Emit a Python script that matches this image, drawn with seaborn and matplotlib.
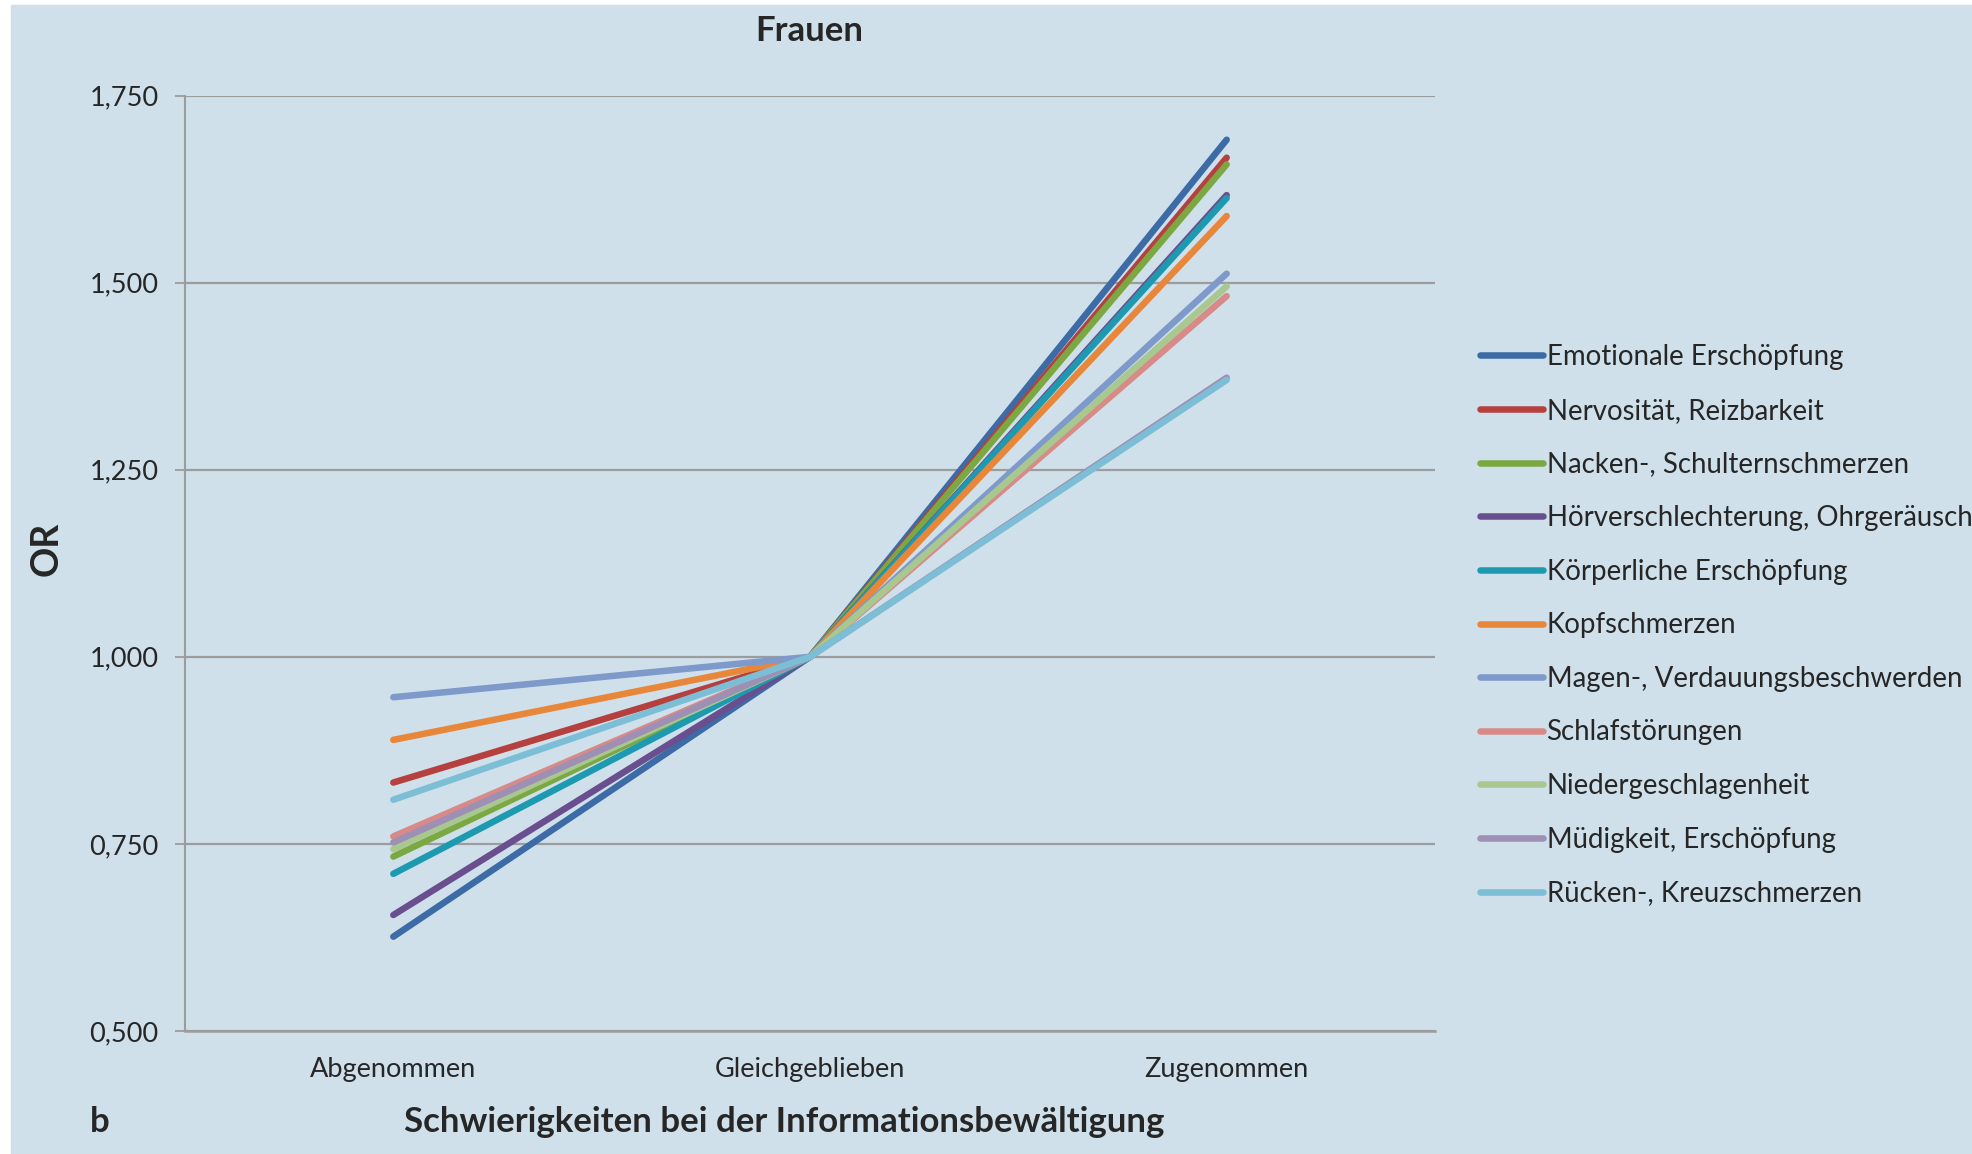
"""
Frauen: OR nach Veränderung der Schwierigkeiten bei der Informationsbewältigung.
"""
import matplotlib
matplotlib.use('Agg')
import matplotlib.pyplot as plt
import matplotlib.patches as mpatches
from matplotlib.ticker import FixedLocator, FuncFormatter
import seaborn as sns
import pandas as pd

# Data
categories = ['Abgenommen', 'Gleichgeblieben', 'Zugenommen']
symptoms = [
    'Emotionale Erschöpfung',
    'Nervosität, Reizbarkeit',
    'Nacken-, Schulternschmerzen',
    'Hörverschlechterung, Ohrgeräusche',
    'Körperliche Erschöpfung',
    'Kopfschmerzen',
    'Magen-, Verdauungsbeschwerden',
    'Schlafstörungen',
    'Niedergeschlagenheit',
    'Müdigkeit, Erschöpfung',
    'Rücken-, Kreuzschmerzen',
]
or_abgenommen = [0.626, 0.832, 0.733, 0.655, 0.710, 0.889, 0.946, 0.760, 0.743, 0.752, 0.809]
or_gleich = [1.0] * len(symptoms)
or_zugenommen = [1.691, 1.667, 1.658, 1.617, 1.613, 1.589, 1.512, 1.482, 1.495, 1.373, 1.370]
colors = ['#3C6BA5', '#B5403E', '#7BA843', '#6A4F8F', '#1E9AB0', '#E8863A',
          '#7E9ACB', '#D88A88', '#A8C890', '#9E8FB5', '#7BBED6']
y_ticks = [0.5, 0.75, 1.0, 1.25, 1.5, 1.75]

rows = []
for i, s in enumerate(symptoms):
    for c, v in zip(categories, [or_abgenommen[i], or_gleich[i], or_zugenommen[i]]):
        rows.append({'Kategorie': c, 'OR': v, 'Symptom': s})
df = pd.DataFrame(rows)

bg = '#CFE0EB'
grid_col = '#9C9C9C'
text_col = '#262626'

sns.set_theme(style='white')
plt.rcParams['font.family'] = ['Lato', 'DejaVu Sans']

fig = plt.figure(figsize=(19.72, 11.54), dpi=100, facecolor='white')
fig.patches.append(mpatches.Rectangle((11 / 1972, 0), 1, 1 - 5 / 1154,
                                      transform=fig.transFigure, color=bg, zorder=-10))
ax = fig.add_axes([0.0938, 0.1066, 0.7277 - 0.0938, 0.9172 - 0.1066])
ax.set_facecolor(bg)

sns.lineplot(data=df, x='Kategorie', y='OR', hue='Symptom', hue_order=symptoms,
             palette=colors, linewidth=4.7, ax=ax, legend=False,
             solid_capstyle='round', sort=False)

ax.set_xlim(-0.5, 2.5)
ax.set_ylim(0.5, 1.75)
ax.set_yticks(y_ticks)
ax.yaxis.set_major_formatter(FuncFormatter(lambda v, p: f'{v:.3f}'.replace('.', ',')))
ax.yaxis.grid(True, color=grid_col, linewidth=1.6)
ax.set_axisbelow(True)

ax.set_xticks(range(len(categories)))
ax.set_xticklabels(categories)
ax.xaxis.set_minor_locator(FixedLocator([-0.5, 0.5, 1.5, 2.5]))
ax.tick_params(axis='x', which='major', length=0, pad=19, labelsize=19.5, labelcolor=text_col)
ax.tick_params(axis='x', which='minor', length=7, width=1.3, color=grid_col, direction='out')
ax.tick_params(axis='y', which='major', length=7, width=1.3, color=grid_col, direction='out',
               pad=12, labelsize=19.5, labelcolor=text_col, left=True)

for side in ['top', 'right']:
    ax.spines[side].set_visible(False)
ax.spines['left'].set_color(grid_col)
ax.spines['left'].set_linewidth(1.5)
ax.spines['bottom'].set_color(grid_col)
ax.spines['bottom'].set_linewidth(1.8)

ax.set_xlabel('')
ax.set_ylabel('')
fig.text(0.0235, 0.524, 'OR', rotation=90, ha='center', va='center',
         fontsize=27, fontweight='bold', color=text_col)
fig.text(0.3975, 0.0275, 'Schwierigkeiten bei der Informationsbewältigung', ha='center',
         va='center', fontsize=25, fontweight='bold', color=text_col)
fig.text(0.0507, 0.0275, 'b', ha='center', va='center', fontsize=25,
         fontweight='bold', color=text_col)
fig.text(0.4105, 0.973, 'Frauen', ha='center', va='center', fontsize=25,
         fontweight='bold', color=text_col)

# legend runs off the right edge, as in the original
handles = [plt.Line2D([], [], color=c, linewidth=4.7) for c in colors]
fig.legend(handles, symptoms, loc='upper left', bbox_to_anchor=(0.745, 0.7115),
           frameon=False, fontsize=19.9, handlelength=2.28, handletextpad=0.12,
           labelspacing=1.0, labelcolor=text_col, borderaxespad=0)

fig.savefig('out.png', dpi=100, facecolor=fig.get_facecolor())
plt.close(fig)
